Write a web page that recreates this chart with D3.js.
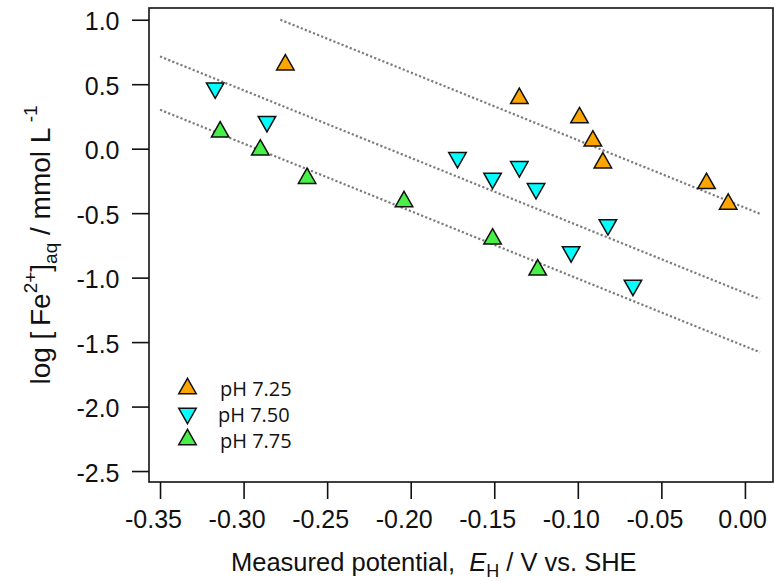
<!DOCTYPE html>
<html>
<head>
<meta charset="utf-8">
<script src="https://cdn.jsdelivr.net/npm/d3@7"></script>
<style>
  html, body { margin: 0; padding: 0; background: #fff; }
  svg { display: block; }
</style>
</head>
<body>
<svg id="chart" width="774" height="581"></svg>
<script>
// Measured potential (V vs. SHE) and log Fe2+ (mmol/L) per pH series
const series = ["pH 7.25", "pH 7.50", "pH 7.75"];
const xPH725 = [-0.275, -0.135, -0.099, -0.091, -0.085, -0.023, -0.010];
const yPH725 = [0.67, 0.41, 0.26, 0.08, -0.09, -0.25, -0.41];
const xPH750 = [-0.317, -0.286, -0.172, -0.151, -0.135, -0.125, -0.082, -0.104, -0.067];
const yPH750 = [0.45, 0.19, -0.09, -0.25, -0.16, -0.33, -0.61, -0.82, -1.08];
const xPH775 = [-0.314, -0.290, -0.262, -0.204, -0.151, -0.124];
const yPH775 = [0.15, 0.01, -0.21, -0.39, -0.68, -0.92];

// Fitted trend lines: [x, y] end points
const fitPH725 = [[-0.278, 1.0], [0.009, -0.505]];
const fitPH750 = [[-0.35, 0.715], [0.009, -1.166]];
const fitPH775 = [[-0.35, 0.302], [0.009, -1.579]];

const xTicks = [-0.35, -0.30, -0.25, -0.20, -0.15, -0.10, -0.05, 0.00];
const yTicks = [1.0, 0.5, 0.0, -0.5, -1.0, -1.5, -2.0, -2.5];

const colors = ["#ffa500", "#00ffff", "#47f047"];

const svg = d3.select("#chart");
const plotL = 149, plotR = 773, plotT = 8, plotB = 482;

const x = d3.scaleLinear().domain([-0.3566, 0.0168]).range([plotL, plotR]);
const y = d3.scaleLinear().domain([-2.585, 1.091]).range([plotB, plotT]);

const fmt = v => d3.format(".2f")(v).replace("\u2212", "-");
const fmtY = v => d3.format(".1f")(v).replace("\u2212", "-");

// Triangle markers centred on their bounding box
const triUp = {
  draw(ctx, size) {
    const w = Math.sqrt(size), h = w * 0.88;
    ctx.moveTo(0, -h / 2);
    ctx.lineTo(w / 2, h / 2);
    ctx.lineTo(-w / 2, h / 2);
    ctx.closePath();
  }
};
const triDown = {
  draw(ctx, size) {
    const w = Math.sqrt(size), h = w * 0.88;
    ctx.moveTo(0, h / 2);
    ctx.lineTo(w / 2, -h / 2);
    ctx.lineTo(-w / 2, -h / 2);
    ctx.closePath();
  }
};
const markerSize = 17.5 * 17.5;

// Frame
svg.append("rect")
  .attr("x", plotL).attr("y", plotT)
  .attr("width", plotR - plotL).attr("height", plotB - plotT)
  .attr("fill", "none").attr("stroke", "#111").attr("stroke-width", 1.6);

// Axes
const xAxis = d3.axisBottom(x).tickValues(xTicks).tickSize(17).tickFormat(fmt);
const gx = svg.append("g").attr("transform", `translate(0,${plotB})`).call(xAxis);
gx.select(".domain").remove();
gx.selectAll(".tick line").attr("stroke", "#111").attr("stroke-width", 1.6);
gx.selectAll(".tick text")
  .attr("y", 46).attr("dy", null).attr("x", 21.5)
  .attr("text-anchor", "end")
  .attr("font-family", "Liberation Sans, Arial, sans-serif")
  .attr("font-size", 25).attr("fill", "#111");

const yAxis = d3.axisLeft(y).tickValues(yTicks).tickSize(17).tickFormat(fmtY);
const gy = svg.append("g").attr("transform", `translate(${plotL},0)`).call(yAxis);
gy.select(".domain").remove();
gy.selectAll(".tick line").attr("stroke", "#111").attr("stroke-width", 1.6);
gy.selectAll(".tick text")
  .attr("x", -29.5).attr("dy", 10).attr("text-anchor", "end")
  .attr("font-family", "Liberation Sans, Arial, sans-serif")
  .attr("font-size", 25).attr("fill", "#111");

// Dotted fit lines
const line = d3.line().x(d => x(d[0])).y(d => y(d[1]));
[fitPH725, fitPH750, fitPH775].forEach(f => {
  svg.append("path")
    .attr("d", line(f))
    .attr("fill", "none")
    .attr("stroke", "#7c7c7c")
    .attr("stroke-width", 2.2)
    .attr("stroke-dasharray", "2.2 2.2");
});

// Data markers
const groups = [
  { xs: xPH725, ys: yPH725, type: triUp, color: colors[0] },
  { xs: xPH750, ys: yPH750, type: triDown, color: colors[1] },
  { xs: xPH775, ys: yPH775, type: triUp, color: colors[2] }
];
groups.forEach(g => {
  const sym = d3.symbol().size(markerSize).type(g.type);
  svg.append("g").selectAll("path")
    .data(g.xs.map((v, i) => [v, g.ys[i]]))
    .join("path")
    .attr("transform", d => `translate(${x(d[0])},${y(d[1])})`)
    .attr("d", sym())
    .attr("fill", g.color)
    .attr("stroke", "#111")
    .attr("stroke-width", 1.5);
});

// Legend
const legend = svg.append("g");
const legendY = [386, 416, 437];
const legendTextY = [396, 422, 448];
const legendTextX = [220, 218, 220];
groups.forEach((g, i) => {
  legend.append("path")
    .attr("transform", `translate(187.5,${legendY[i]})`)
    .attr("d", d3.symbol().size(markerSize).type(g.type)())
    .attr("fill", g.color).attr("stroke", "#111").attr("stroke-width", 1.5);
  legend.append("text")
    .attr("x", legendTextX[i]).attr("y", legendTextY[i])
    .attr("font-family", "Open Sans, sans-serif")
    .attr("font-size", 20).attr("fill", "#111")
    .text(series[i]);
});

// X axis title
const xt = svg.append("text")
  .attr("x", 231).attr("y", 571)
  .attr("font-family", "Liberation Sans, Arial, sans-serif")
  .attr("font-size", 25.5).attr("fill", "#111");
xt.append("tspan").text("Measured potential,\u00a0 ");
xt.append("tspan").attr("font-style", "italic").text("E");
xt.append("tspan").attr("font-size", 18).attr("dy", 6).text("H");
xt.append("tspan").attr("dy", -6).text(" / V vs. SHE");

// Y axis title
const yt = svg.append("text")
  .attr("transform", `translate(50,${(plotT + plotB) / 2}) rotate(-90)`)
  .attr("text-anchor", "middle")
  .attr("font-family", "Liberation Sans, Arial, sans-serif")
  .attr("font-size", 28).attr("fill", "#111");
yt.append("tspan").text("log [\u2009Fe");
yt.append("tspan").attr("font-size", 19).attr("dy", -13).text("2+");
yt.append("tspan").attr("dy", 13).text("]");
yt.append("tspan").attr("font-size", 19).attr("dy", 7).text("aq");
yt.append("tspan").attr("dy", -7).text(" / mmol L");
yt.append("tspan").attr("font-size", 19).attr("dy", -13).text(" -1");
</script>
</body>
</html>
